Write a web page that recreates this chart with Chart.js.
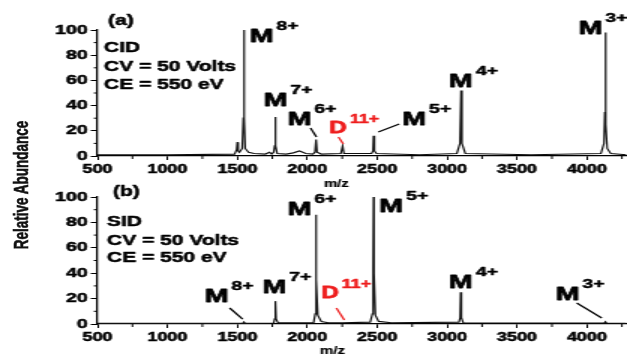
<!DOCTYPE html>
<html>
<head>
<meta charset="utf-8">
<script src="https://cdn.jsdelivr.net/npm/chart.js@4.4.1/dist/chart.umd.min.js"></script>
<style>
    html, body { margin: 0; padding: 0; background: #fff; overflow: hidden; }
    /* figure is drawn narrow and stretched sideways like the original */
    #stage { position: absolute; left: 0; top: 0; width: 418px; height: 354px; transform: scaleX(1.5); transform-origin: 0 0; }
    .panel { position: absolute; left: 0; width: 418px; }
    #panelA { top: 0; height: 190px; }
    #panelB { top: 170px; height: 184px; }
    #ytitle {
        position: absolute; left: 13.5px; top: 185px;
        transform: translate(-50%, -50%) rotate(-90deg);
        font: bold 13.5px 'Liberation Sans', Arial, sans-serif;
        -webkit-text-stroke: 0.4px #111;
        white-space: nowrap; color: #111;
    }
</style>
</head>
<body>
<div id="stage">
    <div id="ytitle">Relative Abundance</div>
    <div class="panel" id="panelA"><canvas id="cid-chart"></canvas></div>
    <div class="panel" id="panelB"><canvas id="sid-chart"></canvas></div>
</div>
<script>
// Panel (a): CID spectrum, m/z and relative abundance
const cidMz  = [500, 1000, 1480, 1495, 1500, 1506, 1515, 1535, 1543, 1547, 1550, 1556, 1580, 1620, 1700, 1730, 1745,
                1760, 1767, 1771, 1775, 1785, 1850, 1900, 1944, 1990, 2040, 2055, 2063, 2070, 2100, 2240, 2253, 2262,
                2460, 2470, 2474, 2480, 2495, 2800, 3070, 3092, 3100, 3106, 3130, 3600, 4100, 4122, 4128, 4132, 4136,
                4145, 4170, 4280];
const cidRel = [1, 1, 1.5, 5, 11, 4, 3, 6, 30, 100, 30, 6, 3, 2, 1.5, 3, 1.5,
                3, 8, 31, 8, 2, 1.5, 2.5, 4, 2, 1.5, 3, 13, 3, 1.5, 2, 8, 2,
                2, 4, 16, 4, 2, 1, 2, 10, 52, 10, 2, 1, 2, 10, 35, 98, 25,
                6, 2, 1];

// Panel (b): SID spectrum
const sidMz  = [500, 1540, 1547, 1555, 1760, 1767, 1772, 1777, 1790, 2045, 2057, 2061, 2063, 2066, 2075, 2100, 2150,
                2253, 2450, 2466, 2471, 2474, 2477, 2487, 2510, 2600, 3085, 3093, 3097, 3102, 3115, 4125, 4132, 4140,
                4280];
const sidRel = [0.5, 0.5, 1.5, 0.5, 0.8, 4, 18, 4, 1, 1, 8, 45, 86, 35, 7, 2, 1,
                1, 1.5, 8, 45, 100, 40, 7, 2, 1, 1.5, 5, 25, 5, 1, 0.8, 1.8, 0.8,
                0.5];

// Axis ticks
const xTicks = [500, 1000, 1500, 2000, 2500, 3000, 3500, 4000];
const xMinorTicks = [750, 1250, 1750, 2250, 2750, 3250, 3750, 4250];
const yTicks = [0, 20, 40, 60, 80, 100];
const yMinorTicks = [10, 30, 50, 70, 90];

const FONT = "'Liberation Sans', Arial, sans-serif";

// Peak labels, placed in data coordinates
const NOTES = {
    cid: {
        tag: { text: '(a)', x: 575, y: 107 },
        info: { lines: ['CID', 'CV = 50 Volts', 'CE = 550 eV'], x: 546, y: [85.7, 70.6, 56.3] },
        axisLabel: { text: 'm/z', x: 2208, py: 184 },
        peaks: [
            { base: 'M', sup: '8+', x: 1588, y: 90.5 },
            { base: 'M', sup: '7+', x: 1688, y: 39.7 },
            { base: 'M', sup: '6+', x: 1859, y: 24.6, leader: [2023, 22.2, 2066, 15.1] },
            { base: 'D', sup: '11+', x: 2158, y: 18.3, color: '#ee1c1c', leader: [2223, 15.1, 2258, 9.5] },
            { base: 'M', sup: '5+', x: 2679, y: 24.6, leader: [2508, 19, 2658, 25.4] },
            { base: 'M', sup: '4+', x: 3014, y: 54.8 },
            { base: 'M', sup: '3+', x: 3941, y: 96.8 }
        ]
    },
    sid: {
        tag: { text: '(b)', x: 611, y: 103.9 },
        info: { lines: ['SID', 'CV = 50 Volts', 'CE = 550 eV'], x: 568, y: [80.3, 65.4, 52] },
        axisLabel: { text: 'm/z', x: 2180, py: 181 },
        peaks: [
            { base: 'M', sup: '8+', x: 1267, y: 17.6, leader: [1445, 12.6, 1538, 3.9] },
            { base: 'M', sup: '7+', x: 1680, y: 24.4 },
            { base: 'M', sup: '6+', x: 1859, y: 85.8 },
            { base: 'D', sup: '11+', x: 2101, y: 20.5, color: '#ee1c1c', leader: [2208, 12.6, 2265, 3.1] },
            { base: 'M', sup: '5+', x: 2515, y: 88.4 },
            { base: 'M', sup: '4+', x: 3014, y: 28.3 },
            { base: 'M', sup: '3+', x: 3777, y: 18.9, leader: [3927, 16.5, 4106, 4.7] }
        ]
    }
};

// Text with a thin outline so it reads as heavy as the scan
function heavyText(ctx, text, x, y, color, stroke) {
    ctx.fillStyle = color;
    ctx.strokeStyle = color;
    ctx.lineWidth = stroke;
    ctx.lineJoin = 'round';
    ctx.strokeText(text, x, y);
    ctx.fillText(text, x, y);
}

// Draws minor ticks, peak labels and panel texts
const annotatePlugin = {
    id: 'annotate',
    afterDraw(chart, args, opts) {
        const ctx = chart.ctx;
        const xs = chart.scales.x;
        const ys = chart.scales.y;
        const area = chart.chartArea;
        const notes = opts.notes;
        if (!notes) return;

        ctx.save();
        ctx.strokeStyle = '#000';
        ctx.lineWidth = 1;

        // minor ticks
        ctx.beginPath();
        xMinorTicks.forEach(v => {
            const px = xs.getPixelForValue(v);
            ctx.moveTo(px, area.bottom);
            ctx.lineTo(px, area.bottom + 3);
        });
        yMinorTicks.forEach(v => {
            const py = ys.getPixelForValue(v);
            ctx.moveTo(area.left, py);
            ctx.lineTo(area.left - 2.5, py);
        });
        ctx.stroke();

        ctx.textAlign = 'left';

        // panel tag and conditions
        ctx.textBaseline = 'middle';
        ctx.font = `bold 14px ${FONT}`;
        heavyText(ctx, notes.tag.text, xs.getPixelForValue(notes.tag.x), ys.getPixelForValue(notes.tag.y), '#000', 0.5);
        notes.info.lines.forEach((line, i) => {
            heavyText(ctx, line, xs.getPixelForValue(notes.info.x), ys.getPixelForValue(notes.info.y[i]), '#000', 0.5);
        });

        // x axis title
        ctx.textAlign = 'center';
        ctx.font = `bold 10px ${FONT}`;
        heavyText(ctx, notes.axisLabel.text, xs.getPixelForValue(notes.axisLabel.x), notes.axisLabel.py, '#000', 0.2);

        // peak labels with superscript charge
        ctx.textAlign = 'left';
        ctx.textBaseline = 'alphabetic';
        notes.peaks.forEach(p => {
            const color = p.color || '#000';
            const isD = p.base === 'D';
            const px = xs.getPixelForValue(p.x);
            const py = ys.getPixelForValue(p.y);
            ctx.font = `bold ${isD ? 16 : 19}px ${FONT}`;
            heavyText(ctx, p.base, px, py, color, 0.8);
            const w = ctx.measureText(p.base).width;
            ctx.font = `bold ${isD ? 12 : 13}px ${FONT}`;
            heavyText(ctx, p.sup, px + w + 2, py - (isD ? 10 : 12), color, 0.5);

            if (p.leader) {
                ctx.strokeStyle = color;
                ctx.lineWidth = 1.3;
                ctx.beginPath();
                ctx.moveTo(xs.getPixelForValue(p.leader[0]), ys.getPixelForValue(p.leader[1]));
                ctx.lineTo(xs.getPixelForValue(p.leader[2]), ys.getPixelForValue(p.leader[3]));
                ctx.stroke();
            }
        });
        ctx.restore();
    }
};

// Build one spectrum panel
function createSpectrum(canvasId, mz, rel, notes, padTop, xAxisHeight) {
    const canvas = document.getElementById(canvasId);
    if (!canvas) return null;

    const tickFont = size => ({ family: FONT, size: size, weight: 'bold' });

    return new Chart(canvas.getContext('2d'), {
        type: 'line',
        data: {
            datasets: [{
                data: mz.map((m, i) => ({ x: m, y: rel[i] })),
                borderColor: '#111',
                borderWidth: 1.2,
                pointRadius: 0,
                tension: 0,
                clip: false
            }]
        },
        options: {
            responsive: true,
            maintainAspectRatio: false,
            animation: false,
            layout: { padding: { top: padTop, left: 0, right: 0, bottom: 0 } },
            plugins: {
                legend: { display: false },
                tooltip: { enabled: false },
                annotate: { notes }
            },
            scales: {
                x: {
                    type: 'linear',
                    min: 500,
                    max: 4280,
                    afterBuildTicks: s => { s.ticks = xTicks.map(v => ({ value: v })); },
                    afterFit: s => { s.height = xAxisHeight; },
                    border: { color: '#000', width: 1.3 },
                    grid: { drawOnChartArea: false, drawTicks: true, tickLength: 4, tickColor: '#000' },
                    ticks: {
                        color: '#000',
                        padding: 2,
                        maxRotation: 0,
                        textStrokeColor: '#000',
                        textStrokeWidth: 0.5,
                        callback: v => String(v),
                        font: tickFont(12)
                    }
                },
                y: {
                    min: 0,
                    max: 100,
                    afterBuildTicks: s => { s.ticks = yTicks.map(v => ({ value: v })); },
                    afterFit: s => { s.width = 65; },
                    border: { color: '#000', width: 1.3 },
                    grid: { drawOnChartArea: false, drawTicks: true, tickLength: 4.5, tickColor: '#000' },
                    ticks: {
                        color: '#000',
                        padding: 2,
                        textStrokeColor: '#000',
                        textStrokeWidth: 0.5,
                        callback: v => String(v),
                        font: tickFont(13)
                    }
                }
            }
        },
        plugins: [annotatePlugin]
    });
}

createSpectrum('cid-chart', cidMz, cidRel, NOTES.cid, 30, 34);
createSpectrum('sid-chart', sidMz, sidRel, NOTES.sid, 27, 30);
</script>
</body>
</html>
